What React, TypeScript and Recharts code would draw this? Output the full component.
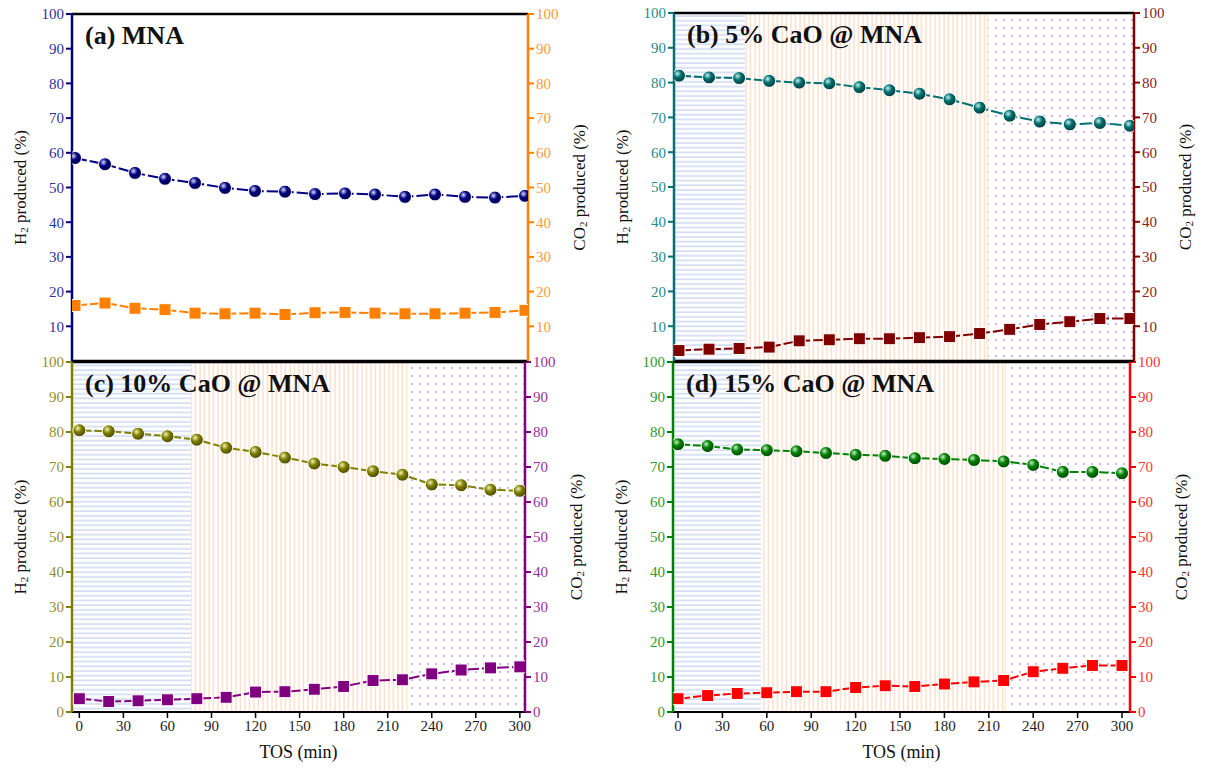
import React from 'react';
import { LineChart, Line, XAxis, YAxis, ReferenceArea, ReferenceLine } from 'recharts';

// time on stream (min)
const tos = [0, 20, 40, 60, 80, 100, 120, 140, 160, 180, 200, 220, 240, 260, 280, 300];

const h2A = [58.5, 56.7, 54.2, 52.5, 51.3, 49.9, 49.0, 48.8, 48.1, 48.3, 48.0, 47.3, 48.0, 47.3, 47.1, 47.6];
const co2A = [16.0, 16.7, 15.2, 14.8, 13.8, 13.6, 13.8, 13.4, 13.9, 14.0, 13.8, 13.6, 13.6, 13.8, 14.0, 14.6];

const h2B = [82.0, 81.5, 81.3, 80.5, 80.0, 79.8, 78.7, 77.8, 76.8, 75.2, 72.8, 70.5, 68.8, 68.0, 68.4, 67.6];
const co2B = [3.0, 3.4, 3.6, 4.0, 5.8, 6.1, 6.4, 6.4, 6.7, 7.0, 7.9, 9.1, 10.5, 11.3, 12.2, 12.2];

const h2C = [80.5, 80.2, 79.5, 78.8, 77.8, 75.5, 74.3, 72.7, 71.0, 70.0, 68.8, 67.8, 65.0, 64.8, 63.5, 63.2];
const co2C = [3.8, 3.0, 3.2, 3.5, 3.8, 4.2, 5.7, 5.8, 6.5, 7.3, 9.0, 9.2, 10.9, 12.0, 12.6, 12.9];

const h2D = [76.5, 76.0, 75.0, 74.8, 74.5, 74.0, 73.5, 73.2, 72.5, 72.3, 72.0, 71.6, 70.6, 68.6, 68.6, 68.2];
const co2D = [3.8, 4.7, 5.3, 5.5, 5.8, 5.8, 7.0, 7.5, 7.3, 8.0, 8.6, 9.0, 11.5, 12.5, 13.3, 13.3];

const yTicks = [0, 10, 20, 30, 40, 50, 60, 70, 80, 90, 100];
const xTicks = [0, 30, 60, 90, 120, 150, 180, 210, 240, 270, 300];

const FONT = "'Liberation Serif', 'Times New Roman', serif";

const rows = (h2: number[], co2: number[]) => tos.map((t, i) => ({ tos: t, h2: h2[i], co2: co2[i] }));

type Band = [number, number, 'h' | 'v' | 'd'];

interface PanelProps {
  id: string;
  title: string;
  h2: number[];
  co2: number[];
  left: number;
  top: number;
  width: number;
  height: number;
  margin: { top: number; right: number; bottom: number; left: number };
  xDomain: [number, number];
  showX: boolean;
  c1: string;
  c1Text: string;
  c2: string;
  c2Text: string;
  dotHi: string;
  dotDark: string;
  bands: Band[];
}

function sideLabel(text: string, side: 'left' | 'right') {
  return (props: any) => {
    const vb = props.viewBox || {};
    const x = side === 'left' ? vb.x + vb.width - 52 : vb.x + 51;
    const y = vb.y + vb.height / 2;
    return (
      <text
        x={x}
        y={y}
        transform={`rotate(-90, ${x}, ${y})`}
        textAnchor="middle"
        dominantBaseline="central"
        fill="#111"
        style={{ fontFamily: FONT, fontSize: 17 }}
      >
        {text}
        <tspan dy={4} style={{ fontSize: 11 }}>2</tspan>
        <tspan dy={-4}> produced (%)</tspan>
      </text>
    );
  };
}

function Panel(p: PanelProps) {
  const data = rows(p.h2, p.co2);
  const fill = { h: `url(#hl-${p.id})`, v: `url(#vl-${p.id})`, d: `url(#dt-${p.id})` };

  const sphere = (props: any) => {
    const { cx, cy, index } = props;
    if (cx == null || cy == null) return <g key={`s${index}`} />;
    return <circle key={`s${index}`} cx={cx} cy={cy} r={6.5} fill={`url(#sp-${p.id})`} stroke="#fff" strokeWidth={1} />;
  };
  const square = (props: any) => {
    const { cx, cy, index } = props;
    if (cx == null || cy == null) return <g key={`q${index}`} />;
    return <rect key={`q${index}`} x={cx - 6} y={cy - 6} width={12} height={12} fill={p.c2} stroke="#fff" strokeWidth={1} />;
  };

  const tickStyle = { fontFamily: FONT, fontSize: 15 };

  return (
    <div style={{ position: 'absolute', left: p.left, top: p.top, width: p.width, height: p.height }}>
      <LineChart width={p.width} height={p.height} data={data} margin={p.margin} style={{ fontFamily: FONT }}>
        <defs>
          <pattern id={`hl-${p.id}`} width={6} height={4.7} patternUnits="userSpaceOnUse">
            <line x1={0} y1={2} x2={6} y2={2} stroke="#cad6f0" strokeWidth={1.4} />
          </pattern>
          <pattern id={`vl-${p.id}`} width={4.5} height={6} patternUnits="userSpaceOnUse">
            <line x1={2} y1={0} x2={2} y2={6} stroke="#fcdcc8" strokeWidth={1.4} />
          </pattern>
          <pattern id={`dt-${p.id}`} width={8} height={8} patternUnits="userSpaceOnUse">
            <circle cx={4} cy={4} r={1} fill="#c19ceb" />
          </pattern>
          <radialGradient id={`sp-${p.id}`} cx="38%" cy="35%" r="65%">
            <stop offset="0%" stopColor={p.dotHi} />
            <stop offset="45%" stopColor={p.c1} />
            <stop offset="100%" stopColor={p.dotDark} />
          </radialGradient>
        </defs>
        <XAxis
          dataKey="tos"
          type="number"
          domain={p.xDomain}
          ticks={xTicks}
          allowDataOverflow
          hide={!p.showX}
          height={p.showX ? 60 : 0}
          axisLine={{ stroke: '#000', strokeWidth: 2 }}
          tickLine={{ stroke: '#000', strokeWidth: 1.5 }}
          tickSize={6}
          tick={{ fill: '#222', style: tickStyle }}
          label={
            p.showX
              ? (props: any) => {
                  const vb = props.viewBox || {};
                  return (
                    <text
                      x={vb.x + vb.width / 2}
                      y={vb.y + 46}
                      textAnchor="middle"
                      fill="#111"
                      style={{ fontFamily: FONT, fontSize: 18 }}
                    >
                      TOS (min)
                    </text>
                  );
                }
              : undefined
          }
        />
        <YAxis
          yAxisId="h2"
          orientation="left"
          domain={[0, 100]}
          ticks={yTicks}
          width={50}
          axisLine={{ stroke: p.c1, strokeWidth: 2.5 }}
          tickLine={{ stroke: p.c1, strokeWidth: 2 }}
          tickSize={6}
          tick={{ fill: p.c1Text, style: tickStyle }}
          label={sideLabel('H', 'left')}
        />
        <YAxis
          yAxisId="co2"
          orientation="right"
          domain={[0, 100]}
          ticks={yTicks}
          width={50}
          axisLine={{ stroke: p.c2, strokeWidth: 2.5 }}
          tickLine={{ stroke: p.c2, strokeWidth: 2 }}
          tickSize={6}
          tick={{ fill: p.c2Text, style: tickStyle }}
          label={sideLabel('CO', 'right')}
        />
        {p.bands.map((b, i) => (
          <ReferenceArea
            key={i}
            yAxisId="h2"
            x1={b[0]}
            x2={b[1]}
            y1={0}
            y2={100}
            fill={fill[b[2]]}
            fillOpacity={1}
            stroke={b[2] === 'd' ? '#fdf0d4' : 'none'}
            strokeWidth={b[2] === 'd' ? 2 : 0}
            ifOverflow="hidden"
          />
        ))}
        <ReferenceLine yAxisId="h2" y={100} stroke="#000" strokeWidth={2.5} />
        {!p.showX && <ReferenceLine yAxisId="h2" y={0} stroke="#000" strokeWidth={2.5} />}
        <Line
          yAxisId="h2"
          dataKey="h2"
          stroke={p.c1}
          strokeWidth={2}
          strokeDasharray="12 3"
          dot={sphere}
          activeDot={false}
          isAnimationActive={false}
        />
        <Line
          yAxisId="co2"
          dataKey="co2"
          stroke={p.c2}
          strokeWidth={2}
          strokeDasharray="12 3"
          dot={square}
          activeDot={false}
          isAnimationActive={false}
        />
      </LineChart>
      <div
        style={{
          position: 'absolute',
          left: p.margin.left + 50 + 13,
          top: p.margin.top + 7,
          fontFamily: FONT,
          fontSize: 26,
          fontWeight: 'bold',
          color: '#111',
          lineHeight: '30px',
          whiteSpace: 'nowrap',
          pointerEvents: 'none',
        }}
      >
        {p.title}
      </div>
    </div>
  );
}

export default function App() {
  return (
    <div
      style={{
        position: 'absolute',
        left: 0,
        top: 0,
        width: 1207,
        height: 772,
        background: '#fff',
        overflow: 'hidden',
        fontFamily: FONT,
      }}
    >
      <Panel
        id="c"
        title="(c) 10% CaO @ MNA"
        h2={h2C}
        co2={co2C}
        left={0}
        top={340}
        width={600}
        height={432}
        margin={{ top: 22, right: 25, bottom: 0, left: 22 }}
        xDomain={[-5, 303.5]}
        showX
        c1="#808000"
        c1Text="#8f8f2c"
        c2="#800080"
        c2Text="#9a2e9a"
        dotHi="#f4f2b8"
        dotDark="#4a4a00"
        bands={[[-5, 76, 'h'], [76, 223, 'v'], [223, 303.5, 'd']]}
      />
      <Panel
        id="d"
        title="(d) 15% CaO @ MNA"
        h2={h2D}
        co2={co2D}
        left={600}
        top={340}
        width={607}
        height={432}
        margin={{ top: 22, right: 27, bottom: 0, left: 23 }}
        xDomain={[-3.4, 305.4]}
        showX
        c1="#008000"
        c1Text="#2e9a2e"
        c2="#ff0000"
        c2Text="#ff3333"
        dotHi="#c8f0c8"
        dotDark="#004a00"
        bands={[[-3.4, 56, 'h'], [56, 221, 'v'], [221, 305.4, 'd']]}
      />
      <Panel
        id="a"
        title="(a) MNA"
        h2={h2A}
        co2={co2A}
        left={0}
        top={0}
        width={600}
        height={362}
        margin={{ top: 14, right: 22, bottom: 1, left: 22 }}
        xDomain={[-2, 302]}
        showX={false}
        c1="#000080"
        c1Text="#2f2f9e"
        c2="#ff8000"
        c2Text="#ff9a3a"
        dotHi="#d8d8ff"
        dotDark="#00004a"
        bands={[]}
      />
      <Panel
        id="b"
        title="(b) 5% CaO @ MNA"
        h2={h2B}
        co2={co2B}
        left={600}
        top={0}
        width={607}
        height={362}
        margin={{ top: 13, right: 23, bottom: 1, left: 24 }}
        xDomain={[-3.3, 302.7]}
        showX={false}
        c1="#007070"
        c1Text="#2a8a8a"
        c2="#800000"
        c2Text="#8e2020"
        dotHi="#c8f0f0"
        dotDark="#003c3c"
        bands={[[-3.3, 44, 'h'], [44, 205, 'v'], [205, 302.7, 'd']]}
      />
    </div>
  );
}
